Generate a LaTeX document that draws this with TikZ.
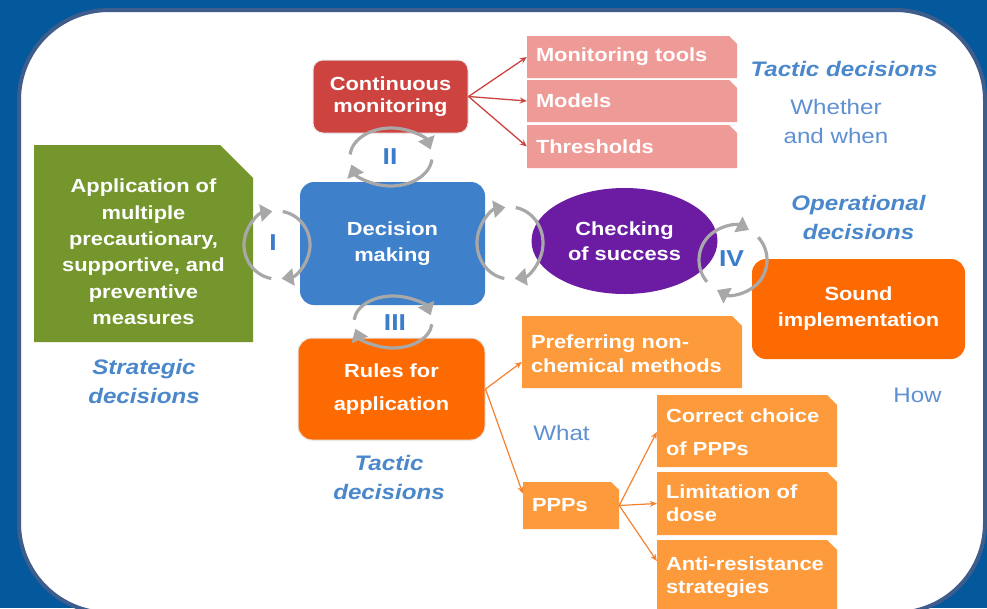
\documentclass[tikz,border=0pt]{standalone}
\usepackage{fontspec}
\setmainfont{Liberation Sans}[FakeStretch=1.15]
\usetikzlibrary{arrows.meta,shapes.geometric}
\definecolor{bgblue}{HTML}{03599B}
\definecolor{cframe}{HTML}{3E5C8C}
\definecolor{cgreen}{HTML}{74962C}
\definecolor{cblue}{HTML}{3F80CA}
\definecolor{cred}{HTML}{CD433F}
\definecolor{cpink}{HTML}{EE9B98}
\definecolor{cpurple}{HTML}{6B1CA3}
\definecolor{corange}{HTML}{FE6A02}
\definecolor{clight}{HTML}{FD9A3B}
\definecolor{cring}{HTML}{A8A8A8}
\definecolor{ctext}{HTML}{4A87CB}
\definecolor{ctextl}{HTML}{5E90D2}
\definecolor{cnum}{HTML}{3B7DCA}
\definecolor{carrow}{HTML}{F58230}
\newcommand\chfill[6]{\fill[#6] (#1,-#2) -- ({#3-#5},-#2) -- (#3,{-#2-#5}) -- (#3,-#4) -- (#1,-#4) -- cycle;}
\newcommand\ringarr[8]{%
 \draw[ringst] (#1,-#2) ++(#5:#3pt and #4pt) arc[start angle=#5, end angle=#6, x radius=#3pt, y radius=#4pt];
 \draw[ringst] (#1,-#2) ++(#7:#3pt and #4pt) arc[start angle=#7, end angle=#8, x radius=#3pt, y radius=#4pt];}
\tikzset{
 bx/.style={text=white, font=\bfseries\fontsize{19}{26}\selectfont, align=center, inner sep=0pt},
 rbox/.style={bx, rounded corners=14pt},
 lbox/.style={text=white, font=\bfseries\fontsize{19}{24}\selectfont, align=left, inner xsep=9pt, inner ysep=0pt},
 lab/.style={text=ctext, font=\bfseries\itshape\fontsize{21}{29}\selectfont, align=center, inner sep=0pt},
 plain/.style={text=ctextl, font=\fontsize{21}{29}\selectfont, align=center, inner sep=0pt},
 num/.style={text=cnum, font=\bfseries\fontsize{23}{26}\selectfont, inner sep=0pt},
 ringst/.style={draw=cring, line width=3.2pt, -{Triangle[length=12pt,width=17pt]}},
 redarr/.style={draw=cred, line width=1.3pt, -{Stealth[length=7pt,width=6pt]}},
 orarr/.style={draw=carrow, line width=1.2pt, -{Stealth[length=7pt,width=6pt]}},
}
\begin{document}
\begin{tikzpicture}[x=1pt,y=1pt]
\useasboundingbox (0,0) rectangle (987,-608);
\fill[bgblue] (0,0) rectangle (987,-608);
\begin{scope}
\clip (0,0) rectangle (987,-608);
\draw[cframe, line width=4pt, fill=white, rounded corners=90pt] (19,-10) rectangle (985,-613);
\end{scope}

% green strategic box
\chfill{34}{145}{253}{342}{33}{cgreen}
\node[bx, font=\bfseries\fontsize{19}{26.4}\selectfont] (app) at (143.5,-252) {Application of\\multiple\\precautionary,\\supportive, and\\preventive\\measures};

% central nodes
\node[rbox, fill=cblue, minimum width=185pt, minimum height=123pt] (dec) at (392.5,-243.5) {Decision\\making};
\node[rbox, fill=cred, draw=black!10, line width=1pt, rounded corners=10pt, minimum width=155pt, minimum height=73pt, font=\bfseries\fontsize{19}{22}\selectfont] (mon) at (390.5,-96.5) {Continuous\\monitoring};
\node[bx, ellipse, fill=cpurple, minimum width=186pt, minimum height=106pt, font=\bfseries\fontsize{19}{25}\selectfont] (chk) at (624.5,-241) {Checking\\of success};
\node[rbox, fill=corange, minimum width=213pt, minimum height=100pt] (snd) at (858.5,-309) {Sound\\implementation};
\node[rbox, fill=corange, draw=black!10, line width=1pt, minimum width=187pt, minimum height=102pt, font=\bfseries\fontsize{19}{33}\selectfont] (rul) at (391.5,-389) {Rules for\\application};

% pink boxes
\chfill{527}{36}{737}{78}{8}{cpink}
\node[lbox, text width=192pt, minimum height=42pt] (tools) at (632,-57) {Monitoring tools};
\chfill{527}{80}{737}{122}{8}{cpink}
\node[lbox, text width=192pt, minimum height=42pt] (models) at (632,-101) {Models};
\chfill{527}{125}{737}{168}{8}{cpink}
\node[lbox, text width=192pt, minimum height=43pt] (thr) at (632,-146.5) {Thresholds};

% light orange boxes
\chfill{522}{316}{742}{388}{10}{clight}
\node[lbox, text width=202pt, minimum height=72pt] (pref) at (632,-354) {Preferring non-\\chemical methods};
\chfill{523}{482}{619}{529}{8}{clight}
\node[lbox, text width=78pt, minimum height=47pt] (ppp) at (571,-505.5) {PPPs};
\chfill{657}{395}{837}{467}{10}{clight}
\node[lbox, text width=162pt, minimum height=72pt, font=\bfseries\fontsize{19}{33}\selectfont] (corr) at (747,-432) {Correct choice\\of PPPs};
\chfill{657}{472}{837}{535}{10}{clight}
\node[lbox, text width=162pt, minimum height=63pt, font=\bfseries\fontsize{19}{23}\selectfont] (lim) at (747,-503.5) {Limitation of\\dose};
\chfill{657}{540}{837}{614}{10}{clight}
\node[lbox, text width=162pt, minimum height=74pt, font=\bfseries\fontsize{19}{23}\selectfont] (anti) at (747,-577) {Anti-resistance\\strategies};

% connectors
\draw[redarr] (mon.east) -- (tools.west);
\draw[redarr] (mon.east) -- (models.west);
\draw[redarr] (mon.east) -- (thr.west);
\draw[orarr] (rul.east) -- ([yshift=-8pt]pref.west);
\draw[orarr] (rul.east) -- ([yshift=12pt]ppp.west);
\draw[orarr] (ppp.east) -- (corr.west);
\draw[orarr] (ppp.east) -- (lim.west);
\draw[orarr] (ppp.east) -- ([yshift=16pt]anti.west);

% cycle rings
\ringarr{277}{245}{33}{34}{80}{-82}{-100}{-262}
\ringarr{510}{243}{33}{36}{80}{-82}{-100}{-262}
\ringarr{733}{260}{34}{34}{220}{62}{42}{-118}
\ringarr{391}{157}{41}{29}{175}{15}{-5}{-165}
\ringarr{393}{322}{39}{26}{175}{15}{-5}{-165}

\node[num] (n1) at (273,-243) {I};
\node[num] (n2) at (390,-157) {II};
\node[num] (n3) at (395,-323) {III};
\node[num] (n4) at (731.5,-258.5) {IV};

% labels
\node[lab] (strat) at (144,-381) {Strategic\\decisions};
\node[lab] (tacl) at (389,-477.5) {Tactic\\decisions};
\node[lab] (tact) at (844,-69) {Tactic decisions};
\node[plain] (when) at (836,-121.5) {Whether\\and when};
\node[lab] (oper) at (858.5,-217.5) {Operational\\decisions};
\node[plain] (what) at (561.5,-433) {What};
\node[plain] (how) at (917.5,-395) {How};
\end{tikzpicture}
\end{document}
